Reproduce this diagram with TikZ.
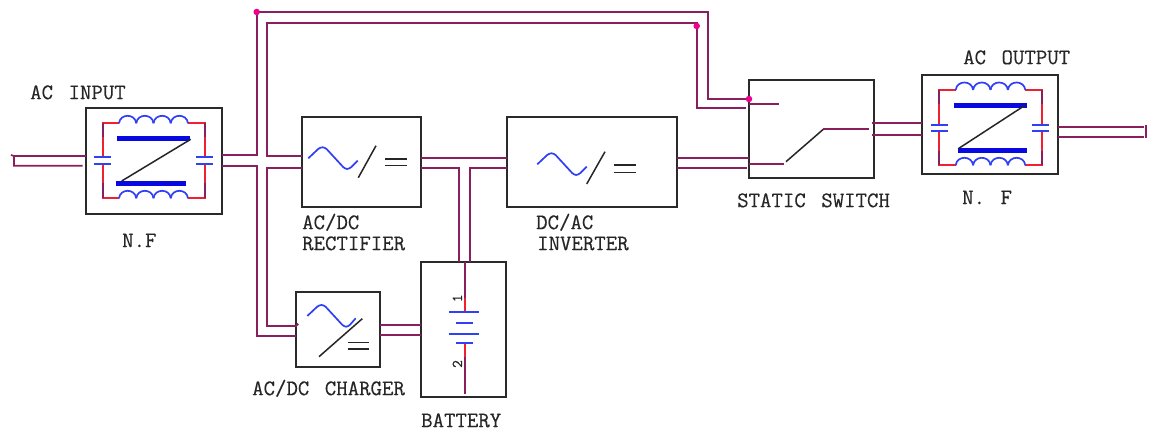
\documentclass[tikz,border=0pt]{standalone}
\usepackage{fontspec}
\setmonofont{Latin Modern Mono}[FakeBold=0.35]
\definecolor{wirec}{HTML}{8A1F5E}
\definecolor{redc}{HTML}{F02030}
\definecolor{bluec}{HTML}{3040F5}
\definecolor{barc}{HTML}{0808E0}
\definecolor{boxc}{HTML}{2A2A2A}
\newcommand{\boxnode}[5]{% name, x0, y0, x1, y1
  \node[blockbox,minimum width={#4-#2},minimum height={#5-#3}] (#1) at ({(#2+#4)/2},{(#3+#5)/2}) {};}
\newcommand{\coilrow}[3]{% x0,x1,y
  \foreach \k in {0,1,2,3}{
    \pgfmathsetmacro{\wa}{#1+\k*(#2-#1)/4}
    \pgfmathsetmacro{\wb}{\wa+(#2-#1)/4}
    \draw[bluew] (\wa,#3) .. controls (\wa+1,#3-10) and (\wb-1,#3-10) .. (\wb,#3);
  }}
\newcommand{\capplates}[4]{% x,halfwidth,y1,y2
  \draw[bluew] (#1-#2,#3) -- (#1+#2,#3);
  \draw[bluew] (#1-#2,#4) -- (#1+#2,#4);}
\newcommand{\sinewave}[2]{% x offset, y offset
  \draw[bluew,rounded corners=2.5pt] (#1+18.3,#2+58.3) -- (#1+30,#2+47.3) -- (#1+35,#2+47.3) -- (#1+55,#2+69) -- (#1+59.3,#2+69) -- (#1+67.7,#2+60.7);}
\begin{document}
\begin{tikzpicture}[x=1pt,y=-1pt,
  blockbox/.style={draw=boxc,line width=1.8pt,fill=none,inner sep=0pt,outer sep=0pt},
  wire/.style={draw=wirec,line width=1.7pt,line join=miter},
  thinwire/.style={draw=wirec,line width=1.9pt},
  redw/.style={draw=redc,line width=1.8pt},
  bluew/.style={draw=bluec,line width=1.7pt,line join=round},
  bar/.style={draw=barc,line width=4.5pt},
  blackw/.style={draw=black!85,line width=1.5pt},
  dotm/.style={circle,fill=magenta,inner sep=0pt,minimum size=6.5pt},
  lab/.style={font=\ttfamily\fontsize{22.2}{22.2}\selectfont,text=black!85,inner sep=0pt,anchor=mid west},
  num/.style={font=\ttfamily\fontsize{15}{15}\selectfont,text=black!85,inner sep=0pt,rotate=90}]
\useasboundingbox (0,0) rectangle (1149,430);
\fill[white] (0,0) rectangle (1149,430);

% blocks
\boxnode{nfin}{85.7}{108.3}{221.7}{214}
\boxnode{rect}{302.3}{117.3}{421.3}{207.3}
\boxnode{inv}{507.3}{117.3}{677.3}{207.3}
\boxnode{sw}{749.3}{80}{873.7}{177.7}
\boxnode{nfout}{922.3}{75}{1058.3}{174.3}
\boxnode{chg}{295.7}{291.7}{380.3}{367}
\boxnode{bat}{421.3}{261.7}{506}{397}

% named points
\coordinate (inA) at (14,156);
\coordinate (inB) at (14,165.7);
\coordinate (outA) at (1144,126.7);
\coordinate (outB) at (1144,136.7);
\coordinate (dotA) at (256.7,12);
\coordinate (dotB) at (696.7,26);
\coordinate (dotC) at (749,99);

% input wires
\draw[wire] (11,155) -- (14,156) -- (14,165.7) -- (82.7,165.7);
\draw[wire] (inA) -- (nfin.west |- inA);
% bypass, outer
\draw[wire] (nfin.east |- 0,155) -- (256.7,155) -- (dotA) -- (707.7,12) -- (707.7,99) -- (dotC);
% bypass, inner
\draw[wire] (rect.west |- 0,156) -- (266.7,156) -- (266.7,22.7) -- (696.7,22.7) -- (696.7,108.3) -- (745.7,108.3);
% to charger
\draw[wire] (nfin.east |- 0,165.7) -- (256.7,165.7) -- (256.7,335.7) -- (chg.west |- 0,335.7);
\draw[wire] (rect.west |- 0,168) -- (267,168) -- (267,326.3) -- (297.3,326.3);
% rectifier to inverter and battery
\draw[wire] (rect.east |- 0,158) -- (inv.west |- 0,158);
\draw[wire] (rect.east |- 0,168.3) -- (459,168.3) -- (459,261.7);
\draw[wire] (inv.west |- 0,168.3) -- (470.3,168.3) -- (470.3,261.7);
% inverter to switch
\draw[wire] (inv.east |- 0,158.3) -- (sw.west |- 0,158.3);
\draw[wire] (inv.east |- 0,168.3) -- (746.7,168.3);
% switch to output filter
\draw[wire] (871.7,123.3) -- (nfout.west |- 0,123.3);
\draw[wire] (871.7,135.3) -- (nfout.west |- 0,135.3);
% output
\draw[wire] (nfout.east |- outA) -- (outA);
\draw[wire] (nfout.east |- outB) -- (outB);
\draw[wire] (1146,125) -- (1146,138);
% charger to battery
\draw[wire] (chg.east |- 0,325) -- (bat.west |- 0,325);
\draw[wire] (chg.east |- 0,335.3) -- (bat.west |- 0,335.3);

% dots
\node[dotm] (d1) at (dotA) {};
\node[dotm] (d2) at (dotB) {};
\node[dotm] (d3) at (dotC) {};
\fill[wirec] (297.3,324.5) circle (1.5pt);

% input filter
\draw[redw] (119,123.3) -- (102.7,123.3) -- (102.7,157.3);
\draw[redw] (102.7,164) -- (102.7,198.3) -- (119,198.3);
\draw[redw] (188,123.3) -- (204.7,123.3) -- (204.7,157.3);
\draw[redw] (204.7,164) -- (204.7,198.3) -- (188,198.3);
\draw[thinwire] (102.7,123.3) -- (102.7,137);
\draw[thinwire] (102.7,183) -- (102.7,198.3);
\draw[thinwire] (204.7,123.3) -- (204.7,137);
\draw[thinwire] (204.7,183) -- (204.7,198.3);
\coilrow{119}{188}{123.3}
\coilrow{119}{188}{198.3}
\capplates{102.7}{8.7}{157.3}{164}
\capplates{204.7}{8.7}{157.3}{164}
\draw[bar] (117.3,138.7) -- (190,138.7);
\draw[bar] (115.7,183.3) -- (186,183.3);
\draw[blackw] (190.7,139.3) -- (121.7,181);

% output filter
\draw[redw] (955.7,90) -- (939.3,90) -- (939.3,125);
\draw[redw] (939.3,131) -- (939.3,165.3) -- (955.7,165.3);
\draw[redw] (1025.3,90) -- (1041.7,90) -- (1041.7,125);
\draw[redw] (1041.7,131) -- (1041.7,165.3) -- (1025.3,165.3);
\draw[thinwire] (939.3,90) -- (939.3,104);
\draw[thinwire] (939.3,151) -- (939.3,165.3);
\draw[thinwire] (1041.7,90) -- (1041.7,104);
\draw[thinwire] (1041.7,151) -- (1041.7,165.3);
\coilrow{955.7}{1025.3}{90}
\coilrow{955.7}{1025.3}{165.3}
\capplates{939.2}{8.5}{125}{131}
\capplates{1040.5}{8.5}{125}{131}
\draw[bar] (954,105.3) -- (1026.7,105.3);
\draw[bar] (957.7,150.3) -- (1026.7,150.3);
\draw[blackw] (1025,105.3) -- (958.3,148.7);

% rectifier symbol
\sinewave{290}{100}
\draw[blackw] (358.3,177.7) -- (376,145.7);
\draw[blackw] (385,159) -- (407.3,159);
\draw[blackw] (385,165.7) -- (407.3,165.7);

% inverter symbol
\sinewave{519}{106}
\draw[blackw] (586.7,184) -- (605,151.7);
\draw[blackw] (613.7,165) -- (636,165);
\draw[blackw] (613.7,172.3) -- (636,172.3);

% charger symbol
\draw[bluew,rounded corners=2.5pt] (307.3,316) -- (319,305) -- (324,305) -- (344,326.7) -- (348.3,326.7) -- (355.7,318.3);
\draw[blackw] (319,356.7) -- (362.3,318.7);
\draw[blackw] (347.7,342.3) -- (369.3,342.3);
\draw[blackw] (347.7,349) -- (369.3,349);

% switch symbol
\draw[thinwire] (sw.west |- 0,104) -- (779.3,104);
\draw[thinwire] (sw.west |- 0,163.7) -- (784.3,163.7);
\draw[blackw] (786,161.7) -- (823.3,129.3);
\draw[thinwire] (823.3,129.3) -- (869.3,129.3);

% battery symbol
\draw[thinwire] (465.3,261.7) -- (465.3,297.7);
\draw[redw] (465.3,297.7) -- (465.3,312.3);
\draw[redw] (465.3,342.7) -- (465.3,357.3);
\draw[thinwire] (465.3,357.3) -- (465.3,394.3);
\draw[bluew] (449.3,312.3) -- (479.3,312.3);
\draw[bluew] (456,323.3) -- (472.7,323.3);
\draw[bluew] (449.3,334) -- (479.3,334);
\draw[bluew] (456,342.7) -- (472.7,342.7);
\node[num] (n1) at (457.3,298.3) {1};
\node[num] (n2) at (457.3,364) {2};

% labels
\node[lab] (l1) at (30,97) {AC\hspace{15.5pt}INPUT};
\node[lab] (l2) at (122,245) {N.F};
\node[lab] (l3) at (302,227) {AC/DC};
\node[lab] (l4) at (302,248) {RECTIFIER};
\node[lab] (l5) at (536,227) {DC/AC};
\node[lab] (l6) at (537,248) {INVERTER};
\node[lab] (l7) at (252,393) {AC/DC\hspace{15.5pt}CHARGER};
\node[lab] (l8) at (421,425) {BATTERY};
\node[lab] (l9) at (737,205) {STATIC\hspace{15.5pt}SWITCH};
\node[lab] (l10) at (963,62) {AC\hspace{15.5pt}OUTPUT};
\node[lab] (l11) at (962,202) {N.\hspace{15.5pt}F};
\end{tikzpicture}
\end{document}
